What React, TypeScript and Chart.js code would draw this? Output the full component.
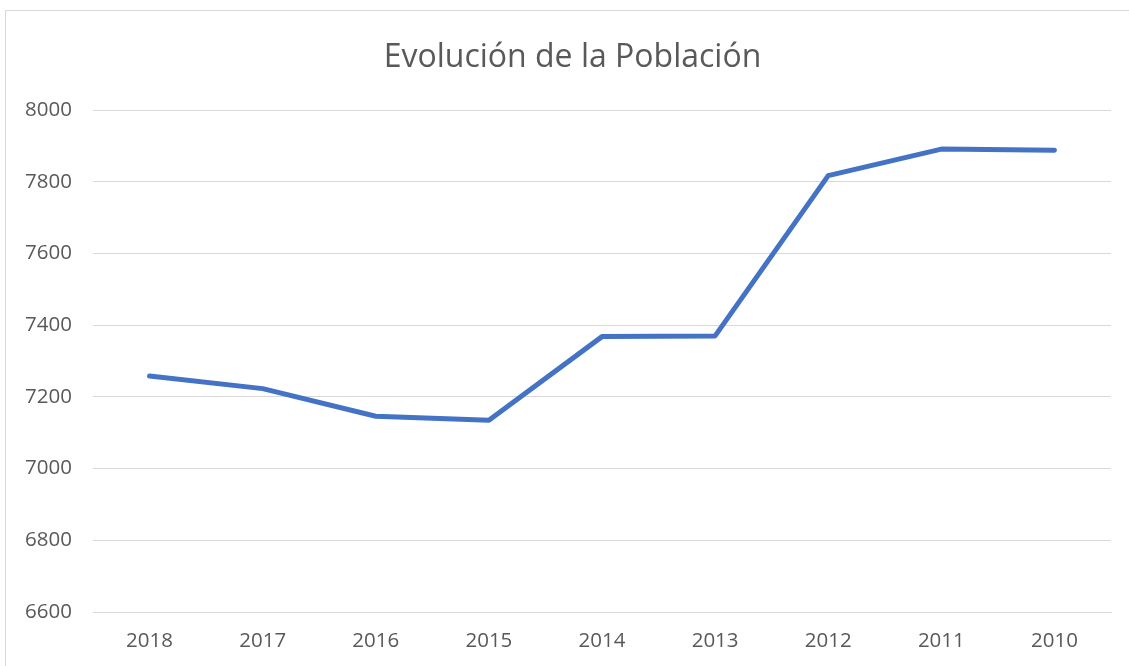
import React, { useEffect, useRef } from "react";
import { Chart, registerables } from "chart.js";

Chart.register(...registerables);

const TITLE = "Evolución de la Población";
const YEARS = ["2018", "2017", "2016", "2015", "2014", "2013", "2012", "2011", "2010"];
const POPULATION = [7258, 7223, 7146, 7135, 7368, 7370, 7817, 7891, 7888];
const Y_MIN = 6600;
const Y_MAX = 8000;
const Y_STEP = 200;

const W = 1129;
const H = 666;
const FONT = "'Open Sans', sans-serif";

const framePlugin = {
  id: "frame",
  beforeDraw(chart: any) {
    const ctx = chart.ctx;
    ctx.save();
    ctx.fillStyle = "#ffffff";
    ctx.fillRect(0, 0, chart.width, chart.height);
    ctx.strokeStyle = "#d9d9d9";
    ctx.lineWidth = 1;
    ctx.strokeRect(5.5, 10.5, 1400, 1000);
    ctx.restore();
  },
  afterDraw(chart: any) {
    const ctx = chart.ctx;
    ctx.save();
    ctx.fillStyle = "#595959";
    ctx.font = `normal 32px ${FONT}`;
    ctx.textAlign = "center";
    ctx.textBaseline = "alphabetic";
    ctx.fillText(TITLE, 572.5, 66.5);
    ctx.restore();
  },
};

export default function App() {
  const ref = useRef<HTMLCanvasElement | null>(null);

  useEffect(() => {
    if (!ref.current) return;
    const chart = new Chart(ref.current, {
      type: "line",
      data: {
        labels: YEARS,
        datasets: [
          {
            label: "Población",
            data: POPULATION,
            borderColor: "#4472C4",
            backgroundColor: "#4472C4",
            borderWidth: 5,
            borderCapStyle: "round",
            borderJoinStyle: "round",
            pointRadius: 0,
            pointHoverRadius: 0,
            tension: 0,
            fill: false,
          },
        ],
      },
      options: {
        responsive: false,
        animation: false,
        layout: { padding: { left: 0, right: 18, top: 110, bottom: 0 } },
        plugins: {
          legend: { display: false },
          tooltip: { enabled: false },
          title: { display: false },
        },
        scales: {
          x: {
            offset: true,
            grid: { display: false, drawTicks: false },
            border: { display: true, color: "#d9d9d9", width: 1 },
            ticks: {
              color: "#595959",
              font: { family: FONT, size: 20.5 },
              padding: 17,
              maxRotation: 0,
              autoSkip: false,
            },
            afterFit(scale: any) {
              scale.height = 54;
            },
          },
          y: {
            min: Y_MIN,
            max: Y_MAX,
            grid: { color: "#d9d9d9", lineWidth: 1, drawTicks: false },
            border: { display: false },
            ticks: {
              stepSize: Y_STEP,
              color: "#595959",
              font: { family: FONT, size: 20.5 },
              padding: 21,
              callback: (v: any) => String(v),
            },
            afterFit(scale: any) {
              scale.width = 93;
            },
          },
        },
      },
      plugins: [framePlugin],
    });
    return () => chart.destroy();
  }, []);

  return (
    <div style={{ position: "fixed", left: 0, top: 0, width: W, height: H, background: "#fff" }}>
      <canvas ref={ref} width={W} height={H} style={{ width: W, height: H, display: "block" }} />
    </div>
  );
}
